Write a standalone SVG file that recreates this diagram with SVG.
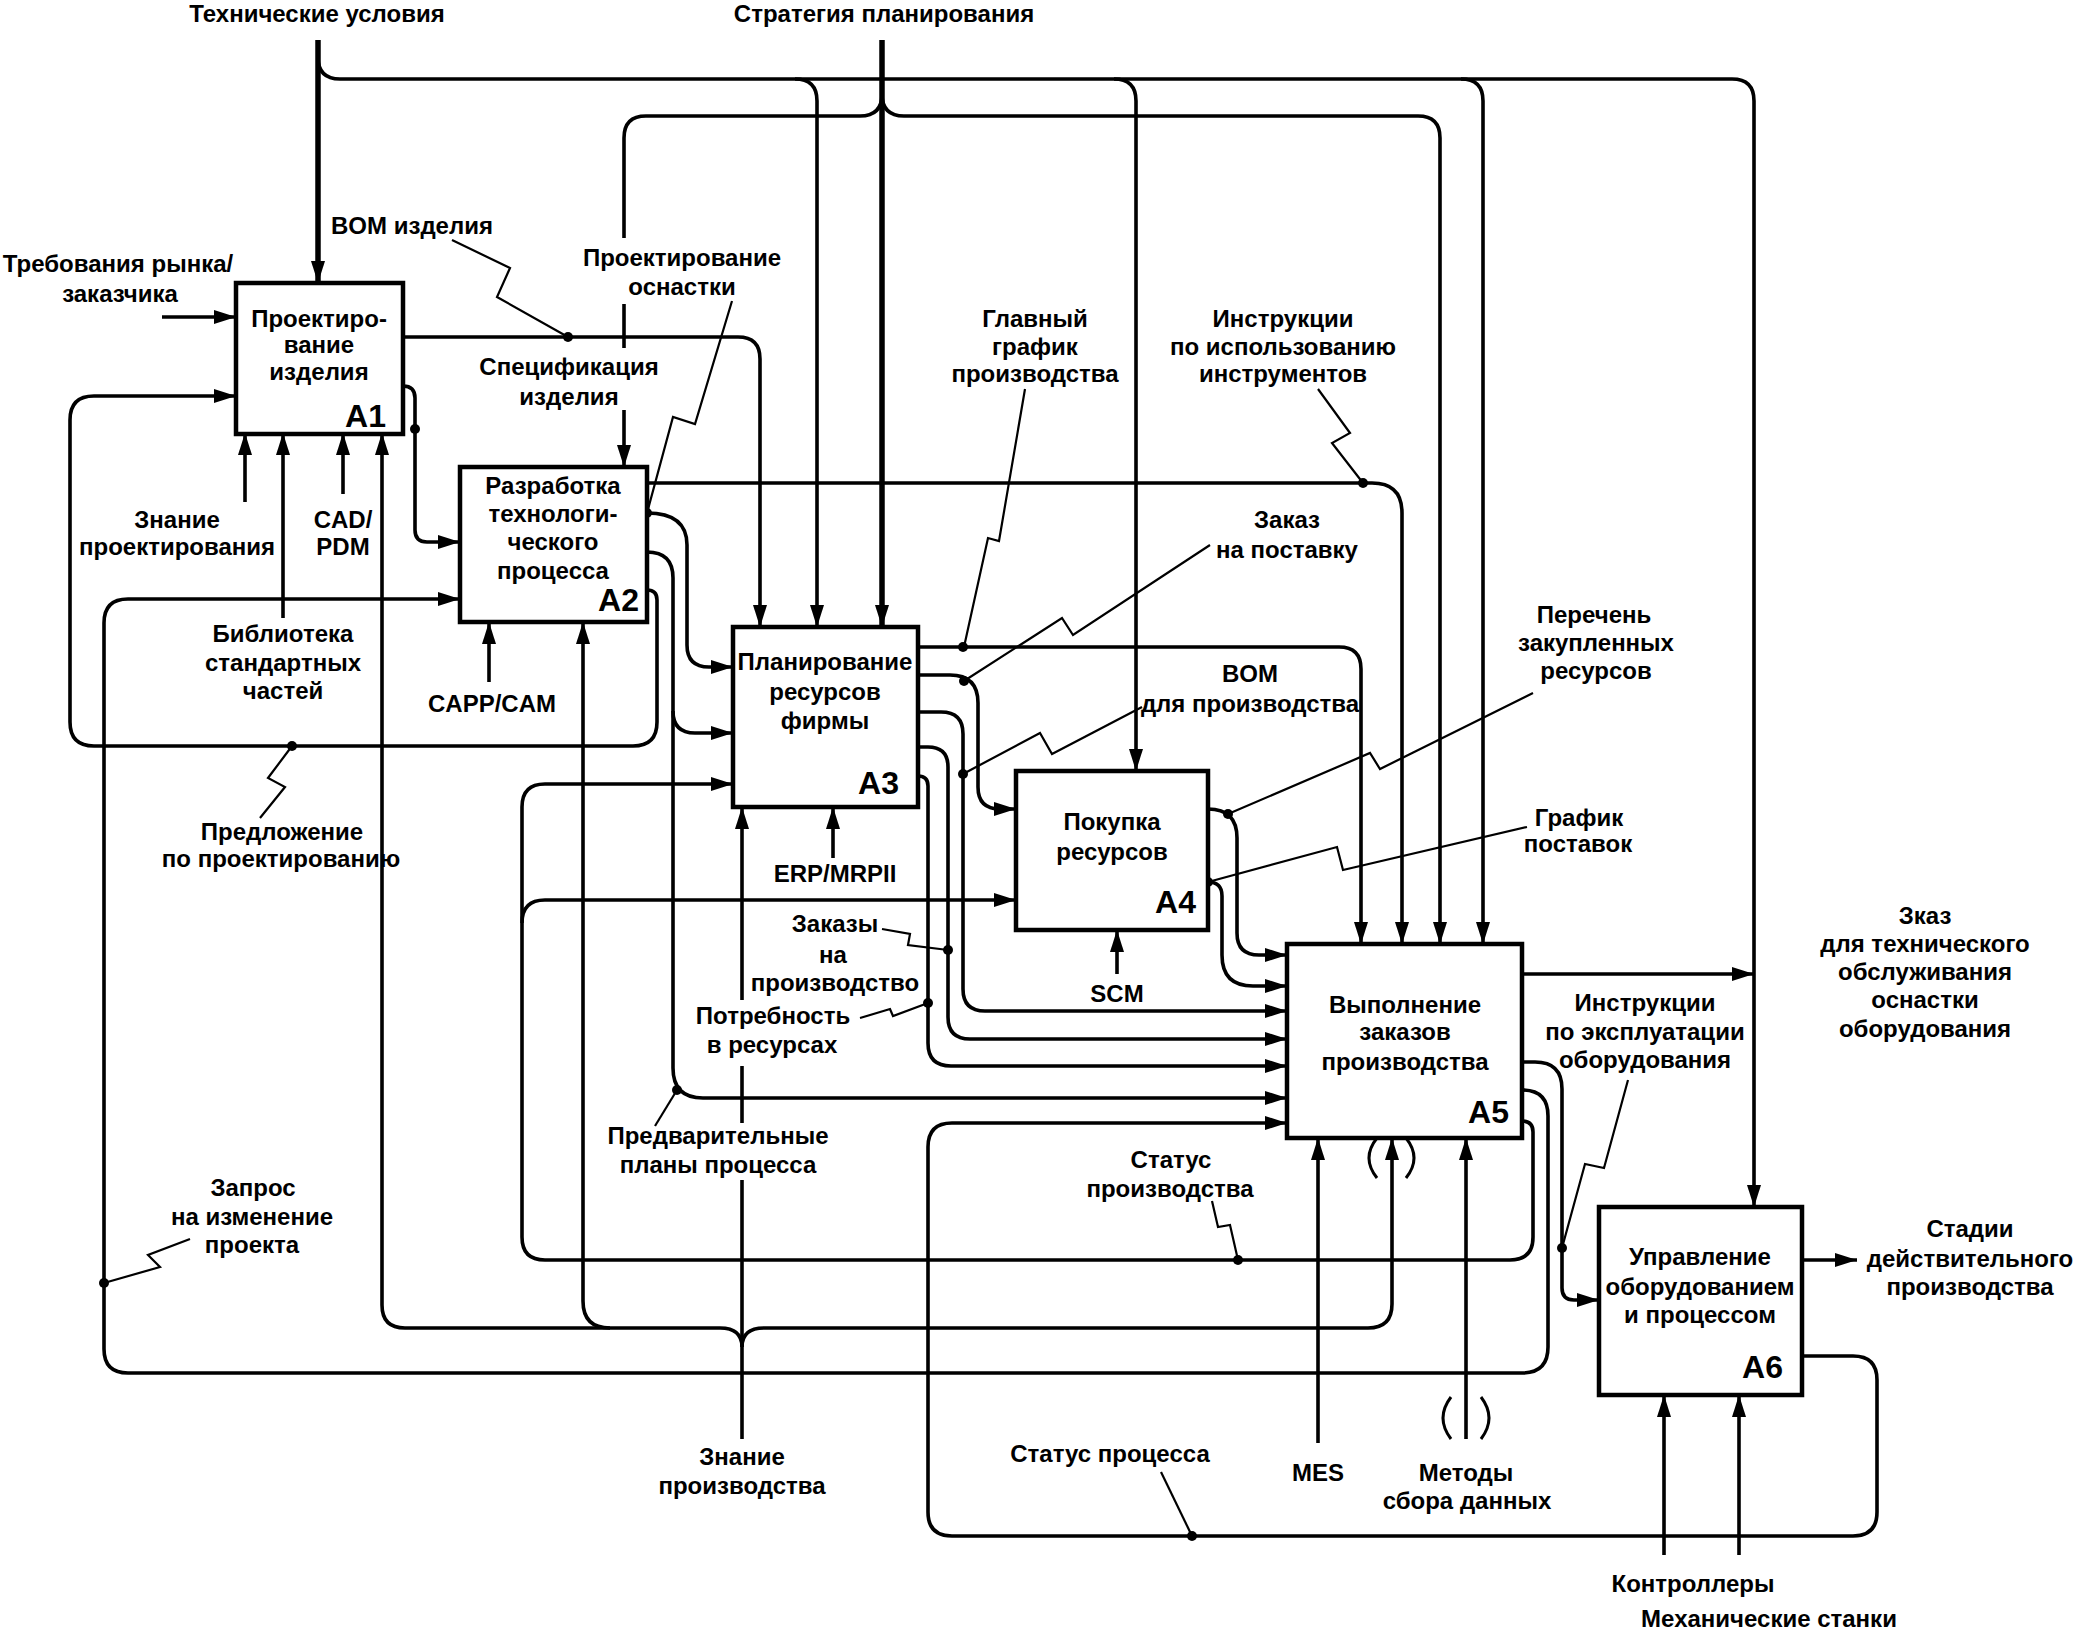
<svg xmlns="http://www.w3.org/2000/svg" width="2077" height="1633" viewBox="0 0 2077 1633">
<style>
.ln{fill:none;stroke:#000;stroke-width:3.6}
.thk{stroke-width:5.5}
.ld{fill:none;stroke:#000;stroke-width:2.2}
.box{fill:#fff;stroke:#000;stroke-width:4.5}
.dot{fill:#000}
text{font-family:"Liberation Sans",Arial,Helvetica,sans-serif;font-weight:bold;font-size:24px;text-anchor:middle;fill:#000}
.bt{font-size:24px}
.num{font-size:32px;text-anchor:end}
</style>
<defs>
<marker id="ah" markerWidth="22" markerHeight="14" refX="22" refY="7" orient="auto" markerUnits="userSpaceOnUse"><path d="M0,0 L22,7 L0,14 z" fill="#000"/></marker>
</defs>
<rect width="2077" height="1633" fill="#fff"/>
<g id="connectors">
<!-- Технические условия -->
<path class="ln thk" d="M318,40 V283" marker-end="url(#ah)"/>
<path class="ln" d="M318,57 Q318,79 340,79 H1732 Q1754,79 1754,101 V1207" marker-end="url(#ah)"/>
<path class="ln" d="M795,79 Q817,79 817,101 V627" marker-end="url(#ah)"/>
<path class="ln" d="M1114,79 Q1136,79 1136,101 V771" marker-end="url(#ah)"/>
<path class="ln" d="M1461,79 Q1483,79 1483,101 V944" marker-end="url(#ah)"/>
<!-- Стратегия планирования -->
<path class="ln thk" d="M882,40 V627" marker-end="url(#ah)"/>
<path class="ln" d="M882,94 Q882,116 860,116 H646 Q624,116 624,138 V238"/>
<path class="ln" d="M624,304 V348"/>
<path class="ln" d="M624,410 V467" marker-end="url(#ah)"/>
<path class="ln" d="M882,94 Q882,116 904,116 H1418 Q1440,116 1440,138 V944" marker-end="url(#ah)"/>
<!-- A1 outputs -->
<path class="ln" d="M403,337 H738 Q760,337 760,359 V627" marker-end="url(#ah)"/>
<path class="ln" d="M403,386 Q415,386 415,398 V530 Q415,542 427,542 H460" marker-end="url(#ah)"/>
<!-- A1 inputs -->
<path class="ln" d="M162,317 H236" marker-end="url(#ah)"/>
<path class="ln" d="M647,590 Q657,590 657,600 V722 Q657,746 633,746 H94 Q70,746 70,722 V420 Q70,396 94,396 H236" marker-end="url(#ah)"/>
<!-- change request -->
<path class="ln" d="M1522,1090 Q1548,1090 1548,1116 V1347 Q1548,1373 1522,1373 H128 Q104,1373 104,1349 V623 Q104,599 128,599 H460" marker-end="url(#ah)"/>
<!-- status of production -->
<path class="ln" d="M1522,1121 Q1533,1121 1533,1132 V1237 Q1533,1260 1510,1260 H545 Q522,1260 522,1237 V807 Q522,784 545,784 H733" marker-end="url(#ah)"/>
<path class="ln" d="M522,923 Q522,900 545,900 H1016" marker-end="url(#ah)"/>
<!-- production knowledge -->
<path class="ln" d="M742,1439 V1180"/>
<path class="ln" d="M742,1123 V1066"/>
<path class="ln" d="M742,1000 V807" marker-end="url(#ah)"/>
<path class="ln" d="M742,1347 Q742,1328 720,1328 H405 Q382,1328 382,1305 V433" marker-end="url(#ah)"/>
<path class="ln" d="M610,1328 Q583,1328 583,1301 V622" marker-end="url(#ah)"/>
<path class="ln" d="M742,1347 Q742,1328 764,1328 H1368 Q1392,1328 1392,1304 V1138" marker-end="url(#ah)"/>
<!-- process status -->
<path class="ln" d="M1802,1356 H1853 Q1877,1356 1877,1380 V1512 Q1877,1536 1853,1536 H952 Q928,1536 928,1512 V1147 Q928,1123 952,1123 H1287" marker-end="url(#ah)"/>
<!-- A5 outputs -->
<path class="ln" d="M1522,1062 H1535 Q1562,1062 1562,1089 V1288 Q1562,1300 1574,1300 H1599" marker-end="url(#ah)"/>
<path class="ln" d="M1522,974 H1754" marker-end="url(#ah)"/>
<path class="ln" d="M1802,1260 H1857" marker-end="url(#ah)"/>
<!-- mechanisms -->
<path class="ln" d="M1664,1555 V1395" marker-end="url(#ah)"/>
<path class="ln" d="M1739,1555 V1395" marker-end="url(#ah)"/>
<path class="ln" d="M1318,1443 V1138" marker-end="url(#ah)"/>
<path class="ln" d="M1466,1439 V1138" marker-end="url(#ah)"/>
<path class="ln" d="M1117,974 V930" marker-end="url(#ah)"/>
<path class="ln" d="M833,858 V807" marker-end="url(#ah)"/>
<path class="ln" d="M489,682 V622" marker-end="url(#ah)"/>
<path class="ln" d="M245,502 V433" marker-end="url(#ah)"/>
<path class="ln" d="M283,618 V433" marker-end="url(#ah)"/>
<path class="ln" d="M343,494 V433" marker-end="url(#ah)"/>
<!-- A2 outputs -->
<path class="ln" d="M647,483 H1372 Q1402,483 1402,513 V944" marker-end="url(#ah)"/>
<path class="ln" d="M647,513 Q687,513 687,545 V645 Q687,667 709,667 H733" marker-end="url(#ah)"/>
<path class="ln" d="M647,552 Q673,552 673,578 V1068 Q673,1098 703,1098 H1287" marker-end="url(#ah)"/>
<path class="ln" d="M673,711 Q673,733 695,733 H733" marker-end="url(#ah)"/>
<!-- A3 outputs -->
<path class="ln" d="M918,647 H1339 Q1361,647 1361,669 V944" marker-end="url(#ah)"/>
<path class="ln" d="M918,675 H950 Q978,675 978,703 V787 Q978,809 1000,809 H1016" marker-end="url(#ah)"/>
<path class="ln" d="M918,712 H941 Q963,712 963,734 V989 Q963,1011 985,1011 H1287" marker-end="url(#ah)"/>
<path class="ln" d="M918,747 H928 Q948,747 948,767 V1017 Q948,1039 970,1039 H1287" marker-end="url(#ah)"/>
<path class="ln" d="M918,776 Q928,776 928,786 V1043 Q928,1066 951,1066 H1287" marker-end="url(#ah)"/>
<!-- A4 outputs -->
<path class="ln" d="M1208,809 Q1237,809 1237,838 V933 Q1237,955 1259,955 H1287" marker-end="url(#ah)"/>
<path class="ln" d="M1208,882 Q1222,882 1222,896 V955 Q1222,986 1253,986 H1287" marker-end="url(#ah)"/>
<!-- tunnel marks -->
<path class="ln" style="stroke-width:3" d="M1377,1138 Q1361,1158 1377,1178 M1406,1138 Q1422,1158 1406,1178"/>
<path class="ln" style="stroke-width:3" d="M1451,1397 Q1435,1418 1451,1439 M1481,1397 Q1497,1418 1481,1439"/>
<!-- label leaders -->
<polyline class="ld" points="452,240 510,268 497,297 568,337"/>
<polyline class="ld" points="732,301 695,424 673,417 647,513"/>
<polyline class="ld" points="1025,389 999,541 988,538 964,647"/>
<polyline class="ld" points="1318,389 1350,433 1332,443 1363,483"/>
<polyline class="ld" points="1210,545 1073,635 1062,618 964,681"/>
<polyline class="ld" points="1142,707 1052,754 1040,733 963,774"/>
<polyline class="ld" points="1533,693 1380,769 1370,753 1228,814"/>
<polyline class="ld" points="1527,827 1343,870 1337,847 1208,882"/>
<polyline class="ld" points="882,929 910,934 908,945 948,950"/>
<polyline class="ld" points="860,1018 890,1009 893,1016 928,1003"/>
<polyline class="ld" points="655,1126 677,1090"/>
<polyline class="ld" points="260,818 285,787 268,778 292,746"/>
<polyline class="ld" points="190,1239 148,1255 160,1267 104,1283"/>
<polyline class="ld" points="1212,1201 1218,1227 1230,1225 1238,1260"/>
<polyline class="ld" points="1161,1472 1192,1536"/>
<polyline class="ld" points="1628,1080 1604,1168 1585,1164 1562,1248"/>
<!-- junction dots -->
<g class="dot">
<circle cx="568" cy="337" r="5"/><circle cx="415" cy="429" r="5"/><circle cx="647" cy="513" r="5"/>
<circle cx="1363" cy="483" r="5"/><circle cx="963" cy="647" r="5"/><circle cx="964" cy="681" r="5"/>
<circle cx="963" cy="774" r="5"/><circle cx="948" cy="950" r="5"/><circle cx="928" cy="1003" r="5"/>
<circle cx="677" cy="1090" r="5"/><circle cx="1228" cy="814" r="5"/><circle cx="1208" cy="882" r="5"/>
<circle cx="292" cy="746" r="5"/><circle cx="104" cy="1283" r="5"/><circle cx="1238" cy="1260" r="5"/>
<circle cx="1192" cy="1536" r="5"/><circle cx="1562" cy="1248" r="5"/>
</g>
</g>
<g id="A1">
<rect class="box" x="236" y="283" width="167" height="151"/>
<text class="bt" x="319" y="327">Проектиро-</text>
<text class="bt" x="319" y="353">вание</text>
<text class="bt" x="319" y="380">изделия</text>
<text class="num" x="386" y="427">A1</text>
</g>
<g id="A2">
<rect class="box" x="460" y="467" width="187" height="155"/>
<text class="bt" x="553" y="494">Разработка</text>
<text class="bt" x="553" y="522">технологи-</text>
<text class="bt" x="553" y="550">ческого</text>
<text class="bt" x="553" y="579">процесса</text>
<text class="num" x="639" y="611">A2</text>
</g>
<g id="A3">
<rect class="box" x="733" y="627" width="185" height="180"/>
<text class="bt" x="825" y="670">Планирование</text>
<text class="bt" x="825" y="700">ресурсов</text>
<text class="bt" x="825" y="729">фирмы</text>
<text class="num" x="899" y="794">A3</text>
</g>
<g id="A4">
<rect class="box" x="1016" y="771" width="192" height="159"/>
<text class="bt" x="1112" y="830">Покупка</text>
<text class="bt" x="1112" y="860">ресурсов</text>
<text class="num" x="1196" y="913">A4</text>
</g>
<g id="A5">
<rect class="box" x="1287" y="944" width="235" height="194"/>
<text class="bt" x="1405" y="1013">Выполнение</text>
<text class="bt" x="1405" y="1040">заказов</text>
<text class="bt" x="1405" y="1070">производства</text>
<text class="num" x="1509" y="1123">A5</text>
</g>
<g id="A6">
<rect class="box" x="1599" y="1207" width="203" height="188"/>
<text class="bt" x="1700" y="1265">Управление</text>
<text class="bt" x="1700" y="1295">оборудованием</text>
<text class="bt" x="1700" y="1323">и процессом</text>
<text class="num" x="1783" y="1378">A6</text>
</g>
<g id="labels">
<text x="317" y="22">Технические условия</text>
<text x="884" y="22">Стратегия планирования</text>
<text x="412" y="234">BOM изделия</text>
<text x="118" y="272">Требования рынка/</text>
<text x="120" y="302">заказчика</text>
<text x="682" y="266">Проектирование</text>
<text x="682" y="295">оснастки</text>
<text x="569" y="375">Спецификация</text>
<text x="569" y="405">изделия</text>
<text x="1035" y="327">Главный</text>
<text x="1035" y="355">график</text>
<text x="1035" y="382">производства</text>
<text x="1283" y="327">Инструкции</text>
<text x="1283" y="355">по использованию</text>
<text x="1283" y="382">инструментов</text>
<text x="1287" y="528">Заказ</text>
<text x="1287" y="558">на поставку</text>
<text x="1250" y="682">BOM</text>
<text x="1250" y="712">для производства</text>
<text x="1594" y="623">Перечень</text>
<text x="1596" y="651">закупленных</text>
<text x="1596" y="679">ресурсов</text>
<text x="1579" y="826">График</text>
<text x="1578" y="852">поставок</text>
<text x="1925" y="924">Зказ</text>
<text x="1925" y="952">для технического</text>
<text x="1925" y="980">обслуживания</text>
<text x="1925" y="1008">оснастки</text>
<text x="1925" y="1037">оборудования</text>
<text x="835" y="932">Заказы</text>
<text x="833" y="963">на</text>
<text x="835" y="991">производство</text>
<text x="773" y="1024">Потребность</text>
<text x="772" y="1053">в ресурсах</text>
<text x="1645" y="1011">Инструкции</text>
<text x="1645" y="1040">по эксплуатации</text>
<text x="1645" y="1068">оборудования</text>
<text x="718" y="1144">Предварительные</text>
<text x="718" y="1173">планы процесса</text>
<text x="1171" y="1168">Статус</text>
<text x="1170" y="1197">производства</text>
<text x="253" y="1196">Запрос</text>
<text x="252" y="1225">на изменение</text>
<text x="252" y="1253">проекта</text>
<text x="1970" y="1237">Стадии</text>
<text x="1970" y="1267">действительного</text>
<text x="1970" y="1295">производства</text>
<text x="742" y="1465">Знание</text>
<text x="742" y="1494">производства</text>
<text x="1110" y="1462">Статус процесса</text>
<text x="1318" y="1481">MES</text>
<text x="1466" y="1481">Методы</text>
<text x="1467" y="1509">сбора данных</text>
<text x="1693" y="1592">Контроллеры</text>
<text x="1769" y="1627">Механические станки</text>
<text x="177" y="528">Знание</text>
<text x="177" y="555">проектирования</text>
<text x="343" y="528">CAD/</text>
<text x="343" y="555">PDM</text>
<text x="283" y="642">Библиотека</text>
<text x="283" y="671">стандартных</text>
<text x="283" y="699">частей</text>
<text x="492" y="712">CAPP/CAM</text>
<text x="835" y="882">ERP/MRPII</text>
<text x="1117" y="1002">SCM</text>
<text x="282" y="840">Предложение</text>
<text x="281" y="867">по проектированию</text>
</g>
</svg>
